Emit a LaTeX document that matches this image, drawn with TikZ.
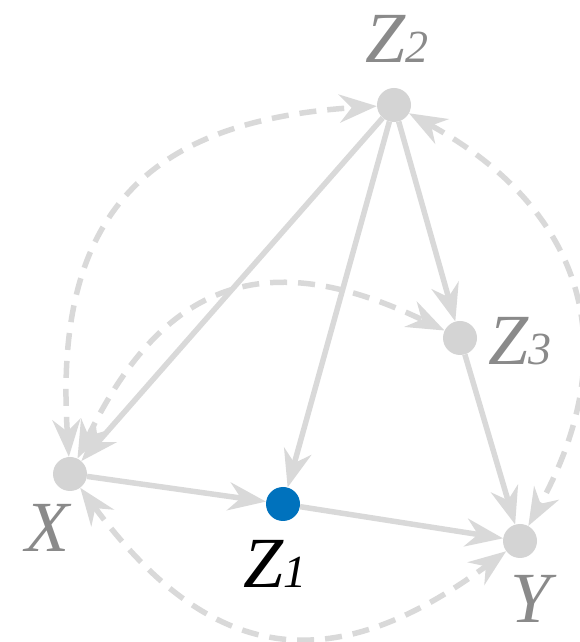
\documentclass[tikz,border=0pt]{standalone}
\usepackage{fontspec}
\setmainfont{Liberation Serif}
\usetikzlibrary{arrows.meta}
\definecolor{nodegray}{RGB}{212,212,212}
\definecolor{edgegray}{RGB}{217,217,217}
\definecolor{labgray}{RGB}{138,138,138}
\definecolor{zblue}{RGB}{0,114,189}
\newcommand\lsub[1]{{\fontsize{46}{46}\selectfont #1}}
\begin{document}
\begin{tikzpicture}[x=1pt,y=1pt,
  vert/.style={circle, fill=nodegray, minimum size=34pt, inner sep=0pt},
  lab/.style={font=\fontsize{72}{72}\selectfont\itshape, text=labgray, inner sep=0pt, anchor=base west},
  diredge/.style={draw=edgegray, line width=5.5pt, -{Stealth[scale=1.35]}},
  biedge/.style={draw=edgegray, line width=5.5pt, dash pattern=on 17pt off 11pt, {Stealth[scale=1.35]}-{Stealth[scale=1.35]}, looseness=1.3}]
\useasboundingbox (0,0) rectangle (580,642);
% vertices
\node[vert] (Z2) at (394,537) {};
\node[vert] (Z3) at (460,304) {};
\node[vert] (X)  at (70,168) {};
\node[vert, fill=zblue] (Z1) at (283,138) {};
\node[vert] (Y)  at (520,101) {};
% labels
\node[lab] (lZ2) at (365,579) {Z\lsub{2}};
\node[lab] (lZ3) at (488,277) {Z\lsub{3}};
\node[lab] (lX)  at (25,90) {X};
\node[lab, text=black] (lZ1) at (243,54) {Z\lsub{1}};
\node[lab] (lY)  at (510,19) {Y};
% directed edges
\draw[diredge] (Z2) -- (X);
\draw[diredge] (Z2) -- (Z1);
\draw[diredge] (Z2) -- (Z3);
\draw[diredge] (Z3) -- (Y);
\draw[diredge] (X) -- (Z1);
\draw[diredge] (Z1) -- (Y);
% bidirected edges
\draw[biedge] (X) to[bend left=45] (Z2);
\draw[biedge] (Z2) to[bend left=45, looseness=1.2] (Y);
\draw[biedge] (X) to[bend right=45] (Y);
\draw[biedge] (X) to[bend left=45] (Z3);
\end{tikzpicture}
\end{document}
